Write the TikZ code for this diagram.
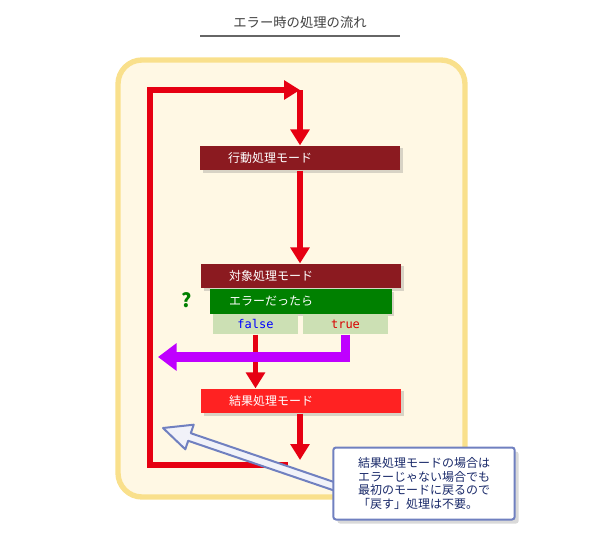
\documentclass[tikz,border=0pt]{standalone}
\usepackage{fontspec}
\setmainfont{Noto Sans CJK JP}
\newfontfamily\codefont{DejaVu Sans Mono}
\usetikzlibrary{arrows.meta,positioning,shadows}
\definecolor{loopred}{HTML}{E60012}
\definecolor{darkred}{HTML}{8B1A20}
\definecolor{brightred}{HTML}{FF2222}
\definecolor{okgreen}{HTML}{008000}
\definecolor{cellgreen}{HTML}{CCE0B4}
\definecolor{panelfill}{HTML}{FFF8E4}
\definecolor{panelline}{HTML}{F9E08C}
\definecolor{noteline}{HTML}{7080C0}
\definecolor{notetext}{HTML}{1A2A6A}
\definecolor{jump}{HTML}{BF00FF}
\begin{document}
\begin{tikzpicture}[x=0.75pt,y=-0.75pt]
 \tikzset{mode node/.style={rectangle, text=white, minimum width=150pt,
 		minimum height=18.5pt, inner sep=0pt, font=\small,
 		drop shadow={shadow xshift=2pt,shadow yshift=-2pt,opacity=0.3}}, }
 \tikzset{cell node/.style={rectangle, fill=cellgreen, minimum width=63.5pt,
 		minimum height=15.5pt, inner sep=0pt, font=\codefont\small}, }
 \tikzset{linea/.style={draw=loopred, line width=4pt, -{Triangle[length=12pt,width=14pt]}},}
 \useasboundingbox (0,0) rectangle (600,539);
 % title
 \node[font=\normalsize, text=black!75] (title) at (300,22) {エラー時の処理の流れ};
 \draw[black!60, line width=0.8pt] (200,36) -- (400,36);
 % panel
 \draw[fill=panelfill, draw=panelline, line width=4pt, rounded corners=18pt]
 	(118,60) rectangle (465,497);
 % modes
 \node[mode node, fill=darkred] (act) at (300,158) {\hspace*{-5em}行動処理モード};
 \node[mode node, fill=darkred] (tgt) at (301,276) {\hspace*{-5em}対象処理モード};
 \node[mode node, fill=okgreen, minimum width=136pt] (err) [below=0pt of tgt.south, xshift=0pt] {\hspace*{-5em}エラーだったら};
 \node[cell node, text=blue] (false) at (255.5,324) {false};
 \node[cell node, text=red!85!black] (true) at (345.5,324) {true};
 \node[text=okgreen, font=\Large\bfseries] (ask) at (187,300) {?};
 \node[mode node, fill=brightred] (res) at (301,401) {\hspace*{-5em}結果処理モード};
 % loop
 \coordinate (top) at (300,90);
 \coordinate (bot) at (288,465);
 \draw[linea] (bot) -- (150,465) -- (150,90) -- (top);
 \draw[linea] (top) -- (act.north -| top);
 \draw[linea] (act.south -| top) -- (tgt.north -| top);
 \draw[linea] (false.south) -- (res.north -| false);
 \draw[draw=jump, line width=7pt, -{Triangle[length=14pt,width=20pt]}]
 	(true.south) -- (true.south |- 0,357) -- (158,357);
 \draw[linea] (res.south -| top) -- (300,460);
 % note
 \draw[fill=white!90!noteline, draw=noteline, line width=1.5pt, line join=round]
 	(163,428) -- (193.7,424.7) -- (190.8,433.2) -- (346.3,486.2)
 	-- (343.7,493.8) -- (188.2,440.8) -- (185.3,449.3) -- cycle;
 \node[draw=noteline, fill=white, line width=1.5pt, rounded corners=2pt,
 	minimum width=136pt, minimum height=54pt, align=left, text=notetext,
 	font=\small\linespread{0.95}\selectfont, inner sep=3pt,
 	drop shadow={shadow xshift=3pt,shadow yshift=-3pt,opacity=0.3}]
 	(note) at (424,483.5) {結果処理モードの場合は\\エラーじゃない場合でも\\最初のモードに戻るので\\「戻す」処理は不要。};
\end{tikzpicture}
\end{document}
